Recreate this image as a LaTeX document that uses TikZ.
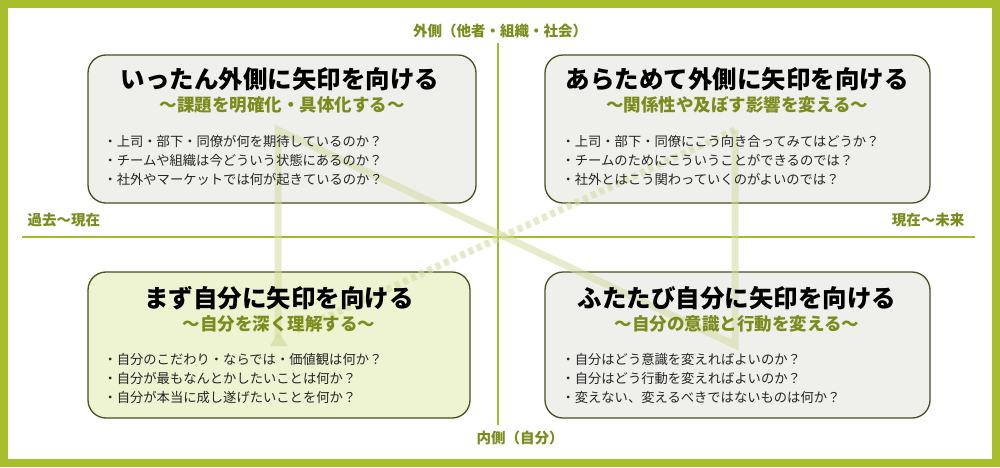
\documentclass[tikz,border=0pt]{standalone}
\usepackage{fontspec}
\setmainfont{Noto Sans CJK JP}
\usetikzlibrary{arrows.meta}
\definecolor{frame}{HTML}{A9BE2C}
\definecolor{axis}{HTML}{A3B82A}
\definecolor{olive}{HTML}{7C8C1C}
\definecolor{bd}{HTML}{4B4E1E}
\definecolor{gfill}{HTML}{EFEFEC}
\definecolor{lgfill}{HTML}{EEF3D2}
\definecolor{flow}{HTML}{D5DCA0}
\begin{document}
\begin{tikzpicture}[x=1pt,y=-1pt,
  box/.style={draw=bd,line width=1.3pt,rounded corners=18pt,fill=gfill},
  ttl/.style={font=\bfseries\fontsize{24.5}{26}\selectfont,text=black},
  sub/.style={font=\bfseries\fontsize{17.5}{19}\selectfont,text=olive},
  lst/.style={font=\fontsize{13.3}{19}\selectfont,align=left,anchor=north west,text=black!85},
  axl/.style={font=\bfseries\fontsize{14.5}{16}\selectfont,text=olive},
  fl/.style={draw=flow,line width=7pt,opacity=0.55}]
\fill[white] (0,0) rectangle (1000,467);
\draw[frame,line width=8pt] (4,4) rectangle (996,463);
% axes
\coordinate (T) at (498,43); \coordinate (B) at (498,425);
\coordinate (L) at (22,237); \coordinate (R) at (975,237);
\draw[axis,line width=1.2pt] (T) -- (B);
\draw[axis,line width=1.2pt] (L) -- (R);
\node[axl] (lt) at (500,31) {外側（他者・組織・社会）};
\node[axl] (lb) at (520,438) {内側（自分）};
\node[axl,anchor=west] (ll) at (24,220) {過去～現在};
\node[axl,anchor=east] (lr) at (968,220) {現在～未来};
% boxes
\draw[box] (88,55) rectangle (476,203);
\draw[box] (545,55) rectangle (930,203);
\draw[box,fill=lgfill] (88,272) rectangle (470,418);
\draw[box] (545,272) rectangle (930,418);
% flow arrows
\coordinate (p1) at (278,338); \coordinate (p2) at (278,130);
\coordinate (p3) at (735,345); \coordinate (p4) at (735,130);
\draw[fl] (p1) -- (p2) -- (p3) -- (p4);
\draw[flow,line width=7pt,opacity=0.6,dash pattern=on 5pt off 4pt] (p4) -- (294,332);
\fill[flow,opacity=0.7] (278,332) -- (270,346) -- (288,346) -- cycle;
% texts
\node[ttl] (t1) at (280,79) {いったん外側に矢印を向ける};
\node[sub] (s1) at (282,105) {～課題を明確化・具体化する～};
\node[lst] (b1) at (100,132) {・上司・部下・同僚が何を期待しているのか？\\・チームや組織は今どういう状態にあるのか？\\・社外やマーケットでは何が起きているのか？};
\node[ttl] (t2) at (737,79) {あらためて外側に矢印を向ける};
\node[sub] (s2) at (737,105) {～関係性や及ぼす影響を変える～};
\node[lst] (b2) at (558,132) {・上司・部下・同僚にこう向き合ってみてはどうか？\\・チームのためにこういうことができるのでは？\\・社外とはこう関わっていくのがよいのでは？};
\node[ttl] (t3) at (279,298) {まず自分に矢印を向ける};
\node[sub] (s3) at (279,324) {～自分を深く理解する～};
\node[lst] (b3) at (100,350) {・自分のこだわり・ならでは・価値観は何か？\\・自分が最もなんとかしたいことは何か？\\・自分が本当に成し遂げたいことを何か？};
\node[ttl] (t4) at (737,298) {ふたたび自分に矢印を向ける};
\node[sub] (s4) at (737,324) {～自分の意識と行動を変える～};
\node[lst] (b4) at (558,350) {・自分はどう意識を変えればよいのか？\\・自分はどう行動を変えればよいのか？\\・変えない、変えるべきではないものは何か？};
\end{tikzpicture}
\end{document}
